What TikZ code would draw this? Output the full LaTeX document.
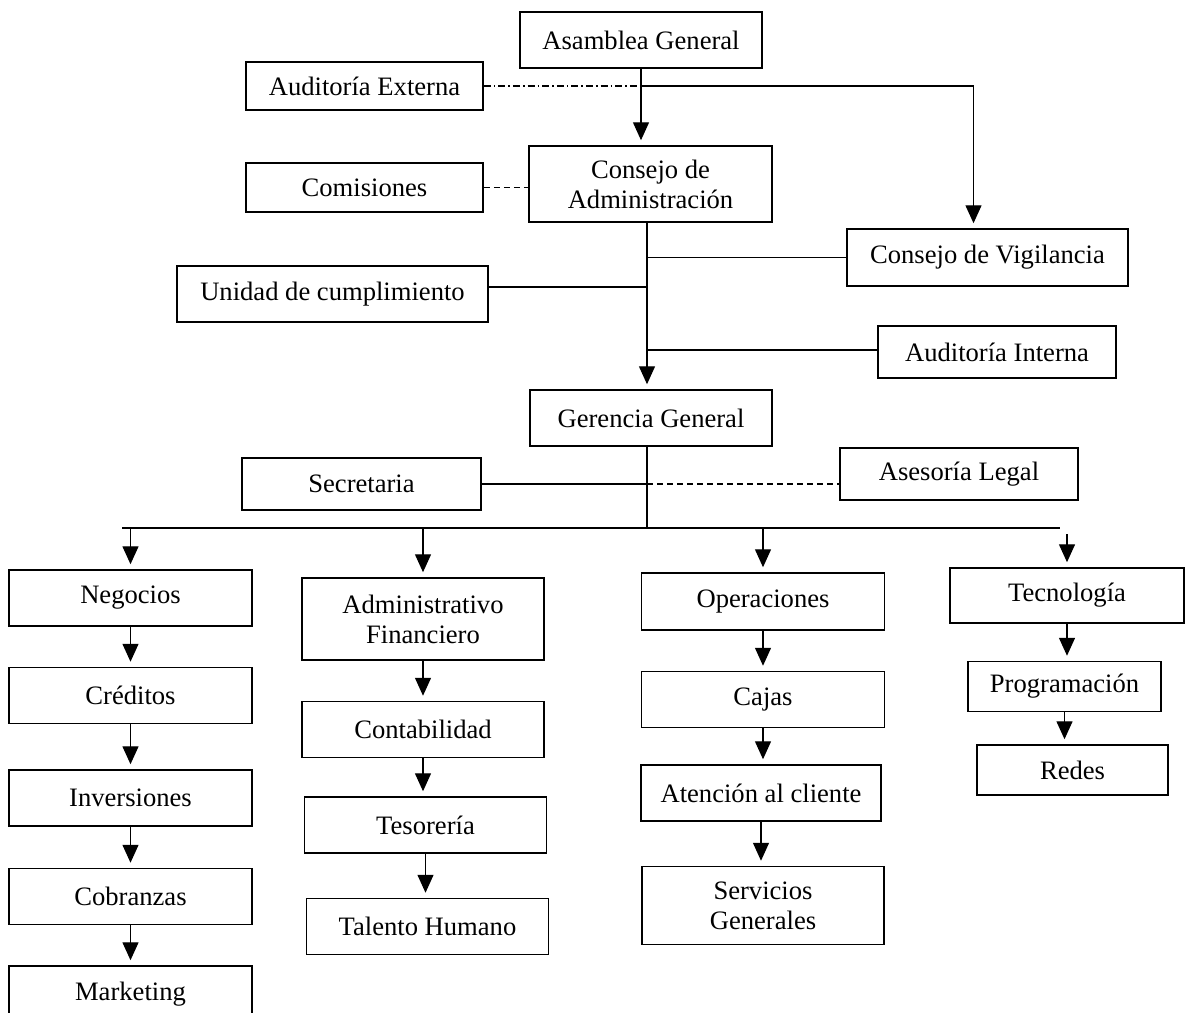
\documentclass[tikz,border=0pt]{standalone}
\usepackage{fontspec}
\setmainfont{Liberation Serif}
\usetikzlibrary{positioning,arrows.meta}

\tikzset{
  unit/.style={draw, rectangle, line width=0.75pt, align=center, inner sep=0pt,
    minimum width=121pt, minimum height=28pt, font=\fontsize{13.3}{15}\selectfont},
  flow/.style={-{Triangle[width=8pt,length=9pt]}, line width=0.7pt, shorten >=2.5pt},
  tie/.style={line width=0.7pt},
  dashtie/.style={line width=0.6pt, dash pattern=on 3pt off 2pt},
  dottie/.style={line width=0.6pt, dash pattern=on 3.5pt off 1.5pt on 0.8pt off 1.5pt},
}

\begin{document}
\begin{tikzpicture}[x=0.5pt, y=-0.5pt]

    \useasboundingbox (0,0) rectangle (1187,1012);

    % Define nodes
    \node[unit]                                            at (641,40)      (asamblea) {Asamblea General};
    \node[unit, minimum width=118.5pt, minimum height=24pt] at (364.5,86)    (audext) {Auditoría Externa};
    \node[unit, minimum width=121.5pt, minimum height=38pt] at (650.5,184)   (consadm) {Consejo de\\Administración};
    \node[unit, minimum width=118.5pt, minimum height=24.5pt] at (364.5,187.5) (comisiones) {Comisiones};
    \node[unit, minimum width=140.5pt, minimum height=28.5pt] at (987.5,257.5) (vigilancia) {Consejo de Vigilancia};
    \node[unit, minimum width=155.5pt]                     at (332.5,294)   (unidad) {Unidad de cumplimiento};
    \node[unit, minimum width=119pt, minimum height=26pt]  at (997,352)     (audint) {Auditoría Interna};
    \node[unit]                                            at (651,418)     (gerencia) {Gerencia General};
    \node[unit, minimum width=119.5pt, minimum height=26pt] at (361.5,484)   (secretaria) {Secretaria};
    \node[unit, minimum width=119pt, minimum height=26pt]  at (959,474)     (asesoria) {Asesoría Legal};

    % Negocios
    \node[unit, minimum width=121.5pt] at (130.5,598)           (negocios) {Negocios};
    \node[unit, minimum width=121.5pt, below=20pt of negocios]   (creditos) {Créditos};
    \node[unit, minimum width=121.5pt, below=22.5pt of creditos] (inversiones) {Inversiones};
    \node[unit, minimum width=121.5pt, below=20.5pt of inversiones] (cobranzas) {Cobranzas};
    \node[unit, minimum width=121.5pt, below=20pt of cobranzas]  (marketing) {Marketing};

    % Administrativo
    \node[unit, minimum height=41pt] at (423,619)               (adminfin) {Administrativo\\Financiero};
    \node[unit, below=20pt of adminfin]                          (contabilidad) {Contabilidad};
    \node[unit, below=19pt of contabilidad, xshift=1.25pt]       (tesoreria) {Tesorería};
    \node[unit, below=22pt of tesoreria, xshift=1pt]             (talento) {Talento Humano};

    % Operaciones
    \node[unit, minimum width=121.5pt, minimum height=28.5pt] at (763,601.5) (operaciones) {Operaciones};
    \node[unit, minimum width=121.5pt, below=20pt of operaciones] (cajas) {Cajas};
    \node[unit, minimum width=120pt, below=18pt of cajas, xshift=-1pt] (atencion) {Atención al cliente};
    \node[unit, minimum width=121pt, minimum height=39pt, below=22pt of atencion, xshift=1pt] (servicios) {Servicios\\Generales};

    % Tecnologia
    \node[unit, minimum width=117pt, minimum height=27.5pt] at (1067,595.5) (tecnologia) {Tecnología};
    \node[unit, minimum width=96.5pt, minimum height=25pt, below=18.5pt of tecnologia, xshift=-1.25pt] (programacion) {Programación};
    \node[unit, minimum width=95.5pt, minimum height=25pt, below=16pt of programacion, xshift=4pt] (redes) {Redes};

    \coordinate (sp)   at (647,0);
    \coordinate (busl) at (122,528);
    \coordinate (busr) at (1060,528);
    \coordinate (j1)   at (asamblea.south |- audext.east);
    \coordinate (j2)   at (sp |- secretaria.east);

    % Connect the nodes
    \draw[flow] (asamblea.south) -- (asamblea.south |- consadm.north);
    \draw[dottie] (audext.east) -- (j1);
    \draw[flow] (j1) -| ([xshift=-7pt]vigilancia.north);
    \draw[dashtie] (comisiones.east) -- (comisiones.east -| consadm.west);

    \draw[flow] (consadm.south -| sp) -- (gerencia.north -| sp);
    \draw[tie] (vigilancia.west) -- (vigilancia.west -| sp);
    \draw[tie] ([yshift=3.5pt]unidad.east) -- ([yshift=3.5pt]unidad.east -| sp);
    \draw[tie] ([yshift=1pt]audint.west) -- ([yshift=1pt]audint.west -| sp);

    \draw[tie] (gerencia.south -| sp) -- (sp |- busl);
    \draw[tie] (secretaria.east) -- (j2);
    \draw[dashtie] (j2) -- (j2 -| asesoria.west);
    \draw[tie] (busl) -- (busr);

    \draw[flow] (negocios.north |- busl) -- (negocios.north);
    \draw[flow] (adminfin.north |- busl) -- (adminfin.north);
    \draw[flow] (operaciones.north |- busl) -- (operaciones.north);
    \draw[flow, shorten <=3pt] (tecnologia.north |- busl) -- (tecnologia.north);

    \draw[flow] (negocios) -- (creditos);
    \draw[flow] (creditos) -- (inversiones);
    \draw[flow] (inversiones) -- (cobranzas);
    \draw[flow] (cobranzas) -- (marketing);

    \draw[flow] (adminfin) -- (adminfin.south |- contabilidad.north);
    \draw[flow] (contabilidad) -- (contabilidad.south |- tesoreria.north);
    \draw[flow] (tesoreria) -- (tesoreria.south |- talento.north);

    \draw[flow] (operaciones) -- (operaciones.south |- cajas.north);
    \draw[flow] (cajas) -- (cajas.south |- atencion.north);
    \draw[flow] (atencion) -- (atencion.south |- servicios.north);

    \draw[flow] (tecnologia) -- (tecnologia.south |- programacion.north);
    \draw[flow] (programacion) -- (programacion.south |- redes.north);

\end{tikzpicture}
\end{document}
